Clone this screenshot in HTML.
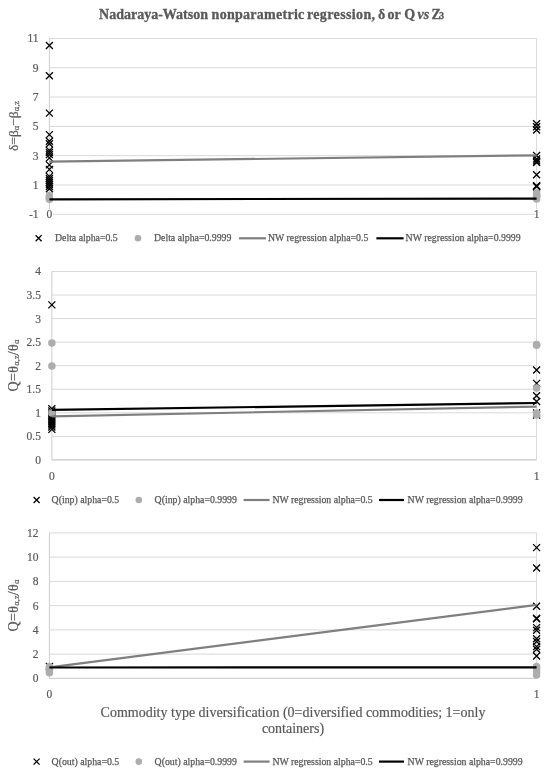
<!DOCTYPE html>
<html><head><meta charset="utf-8"><style>
html,body{margin:0;padding:0;background:#fff;width:550px;height:771px;overflow:hidden}
svg{display:block;will-change:transform;filter:blur(0.3px)}
.t{font-family:"Liberation Serif",serif;font-size:9.8px;fill:#595959;stroke:#595959;stroke-width:0.25px}
.yt{font-family:"Liberation Serif",serif;font-size:13.5px;fill:#595959;stroke:#595959;stroke-width:0.2px}
.tk{font-family:"Liberation Serif",serif;font-size:11.5px;fill:#595959;stroke:#595959;stroke-width:0.2px}
.title{font-family:"Liberation Serif",serif;font-size:14px;font-weight:bold;fill:#595959;stroke:#595959;stroke-width:0.3px}
.ax{font-family:"Liberation Serif",serif;font-size:14px;stroke:#595959;stroke-width:0.2px;fill:#595959}
</style></head><body>
<svg width="550" height="771" viewBox="0 0 550 771">
<rect width="550" height="771" fill="#fff"/>
<text y="18.6" class="title"><tspan x="99.1">Nadaraya-Watson</tspan><tspan x="211.6" letter-spacing="0.27">nonparametric</tspan><tspan x="306.9" letter-spacing="0.38">regression,</tspan><tspan x="377.9">δ</tspan><tspan x="387.4">or</tspan><tspan x="404.2">Q</tspan><tspan x="417.6" font-style="italic">vs</tspan><tspan x="431.6">Z</tspan><tspan x="439.3" font-size="9.5">3</tspan></text>
<line x1="49.4" y1="38.4" x2="536.6" y2="38.4" stroke="#D9D9D9" stroke-width="1"/>
<line x1="49.4" y1="67.72" x2="536.6" y2="67.72" stroke="#D9D9D9" stroke-width="1"/>
<line x1="49.4" y1="97.03" x2="536.6" y2="97.03" stroke="#D9D9D9" stroke-width="1"/>
<line x1="49.4" y1="126.35" x2="536.6" y2="126.35" stroke="#D9D9D9" stroke-width="1"/>
<line x1="49.4" y1="155.66" x2="536.6" y2="155.66" stroke="#D9D9D9" stroke-width="1"/>
<line x1="49.4" y1="184.98" x2="536.6" y2="184.98" stroke="#D9D9D9" stroke-width="1"/>
<line x1="49.4" y1="214.3" x2="536.6" y2="214.3" stroke="#D9D9D9" stroke-width="1"/>
<line x1="536.6" y1="38.4" x2="536.6" y2="214.3" stroke="#D9D9D9" stroke-width="1"/>
<line x1="49.4" y1="38.4" x2="49.4" y2="214.3" stroke="#CDCDCD" stroke-width="1"/>
<text x="38.5" y="42.30" text-anchor="end" class="tk">11</text>
<text x="38.5" y="71.62" text-anchor="end" class="tk">9</text>
<text x="38.5" y="100.93" text-anchor="end" class="tk">7</text>
<text x="38.5" y="130.25" text-anchor="end" class="tk">5</text>
<text x="38.5" y="159.56" text-anchor="end" class="tk">3</text>
<text x="38.5" y="188.88" text-anchor="end" class="tk">1</text>
<text x="38.5" y="218.20" text-anchor="end" class="tk">-1</text>
<rect x="46.199999999999996" y="209.3" width="6.4" height="10" fill="#fff"/>
<text x="49.4" y="218.20000000000002" text-anchor="middle" class="tk">0</text>
<rect x="534.8000000000001" y="209.3" width="3.6" height="10" fill="#fff"/>
<text x="536.6" y="218.20000000000002" text-anchor="middle" class="tk">1</text>
<path d="M45.90 42.00L52.90 49.00M52.90 42.00L45.90 49.00" stroke="#000" stroke-width="1.3" fill="none"/>
<path d="M45.90 72.20L52.90 79.20M52.90 72.20L45.90 79.20" stroke="#000" stroke-width="1.3" fill="none"/>
<path d="M45.90 109.60L52.90 116.60M52.90 109.60L45.90 116.60" stroke="#000" stroke-width="1.3" fill="none"/>
<path d="M45.90 131.10L52.90 138.10M52.90 131.10L45.90 138.10" stroke="#000" stroke-width="1.3" fill="none"/>
<path d="M45.90 137.70L52.90 144.70M52.90 137.70L45.90 144.70" stroke="#000" stroke-width="1.3" fill="none"/>
<path d="M45.90 140.30L52.90 147.30M52.90 140.30L45.90 147.30" stroke="#000" stroke-width="1.3" fill="none"/>
<path d="M45.90 146.90L52.90 153.90M52.90 146.90L45.90 153.90" stroke="#000" stroke-width="1.3" fill="none"/>
<path d="M45.90 149.00L52.90 156.00M52.90 149.00L45.90 156.00" stroke="#000" stroke-width="1.3" fill="none"/>
<path d="M45.90 151.10L52.90 158.10M52.90 151.10L45.90 158.10" stroke="#000" stroke-width="1.3" fill="none"/>
<path d="M45.90 154.40L52.90 161.40M52.90 154.40L45.90 161.40" stroke="#000" stroke-width="1.3" fill="none"/>
<path d="M45.90 161.40L52.90 168.40M52.90 161.40L45.90 168.40" stroke="#000" stroke-width="1.3" fill="none"/>
<path d="M45.90 165.90L52.90 172.90M52.90 165.90L45.90 172.90" stroke="#000" stroke-width="1.3" fill="none"/>
<path d="M45.90 172.90L52.90 179.90M52.90 172.90L45.90 179.90" stroke="#000" stroke-width="1.3" fill="none"/>
<path d="M45.90 175.00L52.90 182.00M52.90 175.00L45.90 182.00" stroke="#000" stroke-width="1.3" fill="none"/>
<path d="M45.90 177.00L52.90 184.00M52.90 177.00L45.90 184.00" stroke="#000" stroke-width="1.3" fill="none"/>
<path d="M45.90 179.00L52.90 186.00M52.90 179.00L45.90 186.00" stroke="#000" stroke-width="1.3" fill="none"/>
<path d="M45.90 181.00L52.90 188.00M52.90 181.00L45.90 188.00" stroke="#000" stroke-width="1.3" fill="none"/>
<path d="M45.90 183.00L52.90 190.00M52.90 183.00L45.90 190.00" stroke="#000" stroke-width="1.3" fill="none"/>
<path d="M45.90 185.20L52.90 192.20M52.90 185.20L45.90 192.20" stroke="#000" stroke-width="1.3" fill="none"/>
<path d="M533.10 120.30L540.10 127.30M540.10 120.30L533.10 127.30" stroke="#000" stroke-width="1.3" fill="none"/>
<path d="M533.10 123.30L540.10 130.30M540.10 123.30L533.10 130.30" stroke="#000" stroke-width="1.3" fill="none"/>
<path d="M533.10 126.50L540.10 133.50M540.10 126.50L533.10 133.50" stroke="#000" stroke-width="1.3" fill="none"/>
<path d="M533.10 152.00L540.10 159.00M540.10 152.00L533.10 159.00" stroke="#000" stroke-width="1.3" fill="none"/>
<path d="M533.10 155.50L540.10 162.50M540.10 155.50L533.10 162.50" stroke="#000" stroke-width="1.3" fill="none"/>
<path d="M533.10 157.50L540.10 164.50M540.10 157.50L533.10 164.50" stroke="#000" stroke-width="1.3" fill="none"/>
<path d="M533.10 159.00L540.10 166.00M540.10 159.00L533.10 166.00" stroke="#000" stroke-width="1.3" fill="none"/>
<path d="M533.10 171.30L540.10 178.30M540.10 171.30L533.10 178.30" stroke="#000" stroke-width="1.3" fill="none"/>
<path d="M533.10 182.10L540.10 189.10M540.10 182.10L533.10 189.10" stroke="#000" stroke-width="1.3" fill="none"/>
<path d="M533.10 182.60L540.10 189.60M540.10 182.60L533.10 189.60" stroke="#000" stroke-width="1.3" fill="none"/>
<path d="M533.10 183.10L540.10 190.10M540.10 183.10L533.10 190.10" stroke="#000" stroke-width="1.3" fill="none"/>
<path d="M533.10 189.50L540.10 196.50M540.10 189.50L533.10 196.50" stroke="#000" stroke-width="1.3" fill="none"/>
<circle cx="49.40" cy="195.50" r="3.75" fill="#ADADAD"/>
<circle cx="49.40" cy="197.00" r="3.75" fill="#ADADAD"/>
<circle cx="49.40" cy="198.50" r="3.75" fill="#ADADAD"/>
<circle cx="49.40" cy="199.30" r="3.75" fill="#ADADAD"/>
<circle cx="536.60" cy="193.00" r="3.75" fill="#ADADAD"/>
<circle cx="536.60" cy="195.00" r="3.75" fill="#ADADAD"/>
<circle cx="536.60" cy="197.00" r="3.75" fill="#ADADAD"/>
<circle cx="536.60" cy="199.00" r="3.75" fill="#ADADAD"/>
<line x1="49.4" y1="161.63" x2="536.6" y2="155.31" stroke="#7F7F7F" stroke-width="2.2"/>
<line x1="49.4" y1="199.29" x2="536.6" y2="198.58" stroke="#000" stroke-width="2.2"/>
<text transform="translate(18.4 126) rotate(-90)" text-anchor="middle" class="yt">δ=β<tspan font-size="8.5" dy="0.8">α</tspan><tspan dy="-0.8">−β</tspan><tspan font-size="8.5" dy="0.8">α,z</tspan></text>
<path d="M35.60 235.30L41.60 241.30M41.60 235.30L35.60 241.30" stroke="#000" stroke-width="1.25" fill="none"/>
<text x="55" y="241.20000000000002" class="t">Delta alpha=0.5</text>
<circle cx="138.00" cy="238.30" r="3.3" fill="#ADADAD"/>
<text x="154" y="241.20000000000002" class="t">Delta alpha=0.9999</text>
<line x1="239" y1="238.3" x2="266" y2="238.3" stroke="#7F7F7F" stroke-width="2.2"/>
<text x="268" y="241.20000000000002" class="t">NW regression alpha=0.5</text>
<line x1="376.4" y1="238.3" x2="403.6" y2="238.3" stroke="#000" stroke-width="2.2"/>
<text x="405.6" y="241.20000000000002" class="t">NW regression alpha=0.9999</text>
<line x1="51.85" y1="271.5" x2="536.6" y2="271.5" stroke="#D9D9D9" stroke-width="1"/>
<line x1="51.85" y1="295.05" x2="536.6" y2="295.05" stroke="#D9D9D9" stroke-width="1"/>
<line x1="51.85" y1="318.6" x2="536.6" y2="318.6" stroke="#D9D9D9" stroke-width="1"/>
<line x1="51.85" y1="342.15" x2="536.6" y2="342.15" stroke="#D9D9D9" stroke-width="1"/>
<line x1="51.85" y1="365.7" x2="536.6" y2="365.7" stroke="#D9D9D9" stroke-width="1"/>
<line x1="51.85" y1="389.25" x2="536.6" y2="389.25" stroke="#D9D9D9" stroke-width="1"/>
<line x1="51.85" y1="412.8" x2="536.6" y2="412.8" stroke="#D9D9D9" stroke-width="1"/>
<line x1="51.85" y1="436.35" x2="536.6" y2="436.35" stroke="#D9D9D9" stroke-width="1"/>
<line x1="51.85" y1="459.9" x2="536.6" y2="459.9" stroke="#D9D9D9" stroke-width="1"/>
<line x1="536.6" y1="271.5" x2="536.6" y2="459.9" stroke="#D9D9D9" stroke-width="1"/>
<line x1="51.85" y1="271.5" x2="51.85" y2="459.9" stroke="#CDCDCD" stroke-width="1"/>
<line x1="51.85" y1="459.9" x2="536.6" y2="459.9" stroke="#CDCDCD" stroke-width="1"/>
<text x="40.95" y="275.40" text-anchor="end" class="tk">4</text>
<text x="40.95" y="298.95" text-anchor="end" class="tk">3.5</text>
<text x="40.95" y="322.50" text-anchor="end" class="tk">3</text>
<text x="40.95" y="346.05" text-anchor="end" class="tk">2.5</text>
<text x="40.95" y="369.60" text-anchor="end" class="tk">2</text>
<text x="40.95" y="393.15" text-anchor="end" class="tk">1.5</text>
<text x="40.95" y="416.70" text-anchor="end" class="tk">1</text>
<text x="40.95" y="440.25" text-anchor="end" class="tk">0.5</text>
<text x="40.95" y="463.80" text-anchor="end" class="tk">0</text>
<rect x="48.65" y="471" width="6.4" height="10" fill="#fff"/>
<text x="51.85" y="479.9" text-anchor="middle" class="tk">0</text>
<rect x="534.8000000000001" y="471" width="3.6" height="10" fill="#fff"/>
<text x="536.6" y="479.9" text-anchor="middle" class="tk">1</text>
<path d="M48.35 301.40L55.35 308.40M55.35 301.40L48.35 308.40" stroke="#000" stroke-width="1.3" fill="none"/>
<path d="M48.35 405.20L55.35 412.20M55.35 405.20L48.35 412.20" stroke="#000" stroke-width="1.3" fill="none"/>
<path d="M48.35 407.50L55.35 414.50M55.35 407.50L48.35 414.50" stroke="#000" stroke-width="1.3" fill="none"/>
<path d="M48.35 409.50L55.35 416.50M55.35 409.50L48.35 416.50" stroke="#000" stroke-width="1.3" fill="none"/>
<path d="M48.35 411.50L55.35 418.50M55.35 411.50L48.35 418.50" stroke="#000" stroke-width="1.3" fill="none"/>
<path d="M48.35 413.50L55.35 420.50M55.35 413.50L48.35 420.50" stroke="#000" stroke-width="1.3" fill="none"/>
<path d="M48.35 415.50L55.35 422.50M55.35 415.50L48.35 422.50" stroke="#000" stroke-width="1.3" fill="none"/>
<path d="M48.35 417.50L55.35 424.50M55.35 417.50L48.35 424.50" stroke="#000" stroke-width="1.3" fill="none"/>
<path d="M48.35 419.50L55.35 426.50M55.35 419.50L48.35 426.50" stroke="#000" stroke-width="1.3" fill="none"/>
<path d="M48.35 421.50L55.35 428.50M55.35 421.50L48.35 428.50" stroke="#000" stroke-width="1.3" fill="none"/>
<path d="M48.35 423.50L55.35 430.50M55.35 423.50L48.35 430.50" stroke="#000" stroke-width="1.3" fill="none"/>
<path d="M48.35 425.90L55.35 432.90M55.35 425.90L48.35 432.90" stroke="#000" stroke-width="1.3" fill="none"/>
<path d="M533.10 366.50L540.10 373.50M540.10 366.50L533.10 373.50" stroke="#000" stroke-width="1.3" fill="none"/>
<path d="M533.10 379.90L540.10 386.90M540.10 379.90L533.10 386.90" stroke="#000" stroke-width="1.3" fill="none"/>
<path d="M533.10 392.20L540.10 399.20M540.10 392.20L533.10 399.20" stroke="#000" stroke-width="1.3" fill="none"/>
<path d="M533.10 398.00L540.10 405.00M540.10 398.00L533.10 405.00" stroke="#000" stroke-width="1.3" fill="none"/>
<path d="M533.10 409.50L540.10 416.50M540.10 409.50L533.10 416.50" stroke="#000" stroke-width="1.3" fill="none"/>
<path d="M533.10 411.50L540.10 418.50M540.10 411.50L533.10 418.50" stroke="#000" stroke-width="1.3" fill="none"/>
<circle cx="51.85" cy="343.10" r="3.75" fill="#ADADAD"/>
<circle cx="51.85" cy="365.90" r="3.75" fill="#ADADAD"/>
<circle cx="51.85" cy="412.90" r="3.75" fill="#ADADAD"/>
<circle cx="536.60" cy="344.60" r="3.75" fill="#ADADAD"/>
<circle cx="536.60" cy="345.20" r="3.75" fill="#ADADAD"/>
<circle cx="536.60" cy="388.10" r="3.75" fill="#ADADAD"/>
<circle cx="536.60" cy="413.00" r="3.75" fill="#ADADAD"/>
<circle cx="536.60" cy="415.00" r="3.75" fill="#ADADAD"/>
<line x1="51.85" y1="416.33" x2="536.6" y2="406.6" stroke="#7F7F7F" stroke-width="2.2"/>
<line x1="51.85" y1="409.96" x2="536.6" y2="402.99" stroke="#000" stroke-width="2.2"/>
<text transform="translate(18.4 365.5) rotate(-90)" text-anchor="middle" class="yt"><tspan font-size="14" letter-spacing="0.35">Q=θ</tspan><tspan font-size="8.5" dy="0.8">α,z</tspan><tspan dy="-0.8" font-size="14" letter-spacing="0.35">/θ</tspan><tspan font-size="8.5" dy="0.8">α</tspan></text>
<path d="M33.60 497.00L39.60 503.00M39.60 497.00L33.60 503.00" stroke="#000" stroke-width="1.25" fill="none"/>
<text x="51.6" y="502.9" class="t">Q(inp) alpha=0.5</text>
<circle cx="138.80" cy="500.00" r="3.3" fill="#ADADAD"/>
<text x="154.6" y="502.9" class="t">Q(inp) alpha=0.9999</text>
<line x1="243.6" y1="500" x2="269.6" y2="500" stroke="#7F7F7F" stroke-width="2.2"/>
<text x="272.4" y="502.9" class="t">NW regression alpha=0.5</text>
<line x1="379" y1="500" x2="404" y2="500" stroke="#000" stroke-width="2.2"/>
<text x="407.6" y="502.9" class="t">NW regression alpha=0.9999</text>
<line x1="49.4" y1="532.9" x2="536.6" y2="532.9" stroke="#D9D9D9" stroke-width="1"/>
<line x1="49.4" y1="557.15" x2="536.6" y2="557.15" stroke="#D9D9D9" stroke-width="1"/>
<line x1="49.4" y1="581.4" x2="536.6" y2="581.4" stroke="#D9D9D9" stroke-width="1"/>
<line x1="49.4" y1="605.65" x2="536.6" y2="605.65" stroke="#D9D9D9" stroke-width="1"/>
<line x1="49.4" y1="629.9" x2="536.6" y2="629.9" stroke="#D9D9D9" stroke-width="1"/>
<line x1="49.4" y1="654.15" x2="536.6" y2="654.15" stroke="#D9D9D9" stroke-width="1"/>
<line x1="49.4" y1="678.4" x2="536.6" y2="678.4" stroke="#D9D9D9" stroke-width="1"/>
<line x1="536.6" y1="532.9" x2="536.6" y2="678.4" stroke="#D9D9D9" stroke-width="1"/>
<line x1="49.4" y1="532.9" x2="49.4" y2="678.4" stroke="#CDCDCD" stroke-width="1"/>
<line x1="49.4" y1="678.4" x2="536.6" y2="678.4" stroke="#CDCDCD" stroke-width="1"/>
<text x="38.5" y="536.80" text-anchor="end" class="tk">12</text>
<text x="38.5" y="561.05" text-anchor="end" class="tk">10</text>
<text x="38.5" y="585.30" text-anchor="end" class="tk">8</text>
<text x="38.5" y="609.55" text-anchor="end" class="tk">6</text>
<text x="38.5" y="633.80" text-anchor="end" class="tk">4</text>
<text x="38.5" y="658.05" text-anchor="end" class="tk">2</text>
<text x="38.5" y="682.30" text-anchor="end" class="tk">0</text>
<rect x="46.199999999999996" y="689" width="6.4" height="10" fill="#fff"/>
<text x="49.4" y="697.9" text-anchor="middle" class="tk">0</text>
<rect x="534.8000000000001" y="689" width="3.6" height="10" fill="#fff"/>
<text x="536.6" y="697.9" text-anchor="middle" class="tk">1</text>
<path d="M45.90 663.00L52.90 670.00M52.90 663.00L45.90 670.00" stroke="#000" stroke-width="1.3" fill="none"/>
<path d="M533.10 544.10L540.10 551.10M540.10 544.10L533.10 551.10" stroke="#000" stroke-width="1.3" fill="none"/>
<path d="M533.10 564.50L540.10 571.50M540.10 564.50L533.10 571.50" stroke="#000" stroke-width="1.3" fill="none"/>
<path d="M533.10 602.80L540.10 609.80M540.10 602.80L533.10 609.80" stroke="#000" stroke-width="1.3" fill="none"/>
<path d="M533.10 614.80L540.10 621.80M540.10 614.80L533.10 621.80" stroke="#000" stroke-width="1.3" fill="none"/>
<path d="M533.10 615.40L540.10 622.40M540.10 615.40L533.10 622.40" stroke="#000" stroke-width="1.3" fill="none"/>
<path d="M533.10 624.10L540.10 631.10M540.10 624.10L533.10 631.10" stroke="#000" stroke-width="1.3" fill="none"/>
<path d="M533.10 626.70L540.10 633.70M540.10 626.70L533.10 633.70" stroke="#000" stroke-width="1.3" fill="none"/>
<path d="M533.10 635.20L540.10 642.20M540.10 635.20L533.10 642.20" stroke="#000" stroke-width="1.3" fill="none"/>
<path d="M533.10 638.00L540.10 645.00M540.10 638.00L533.10 645.00" stroke="#000" stroke-width="1.3" fill="none"/>
<path d="M533.10 643.10L540.10 650.10M540.10 643.10L533.10 650.10" stroke="#000" stroke-width="1.3" fill="none"/>
<path d="M533.10 645.70L540.10 652.70M540.10 645.70L533.10 652.70" stroke="#000" stroke-width="1.3" fill="none"/>
<path d="M533.10 652.50L540.10 659.50M540.10 652.50L533.10 659.50" stroke="#000" stroke-width="1.3" fill="none"/>
<circle cx="49.40" cy="666.40" r="3.75" fill="#ADADAD"/>
<circle cx="49.40" cy="668.50" r="3.75" fill="#ADADAD"/>
<circle cx="49.40" cy="670.50" r="3.75" fill="#ADADAD"/>
<circle cx="49.40" cy="672.80" r="3.75" fill="#ADADAD"/>
<circle cx="536.60" cy="666.50" r="3.75" fill="#ADADAD"/>
<circle cx="536.60" cy="669.00" r="3.75" fill="#ADADAD"/>
<circle cx="536.60" cy="672.00" r="3.75" fill="#ADADAD"/>
<circle cx="536.60" cy="675.00" r="3.75" fill="#ADADAD"/>
<line x1="49.4" y1="667.35" x2="536.6" y2="604.9" stroke="#7F7F7F" stroke-width="2.2"/>
<line x1="49.4" y1="667.5" x2="536.6" y2="667.35" stroke="#000" stroke-width="2.2"/>
<text transform="translate(18.4 605.5) rotate(-90)" text-anchor="middle" class="yt"><tspan font-size="14" letter-spacing="0.35">Q=θ</tspan><tspan font-size="8.5" dy="0.8">α,z</tspan><tspan dy="-0.8" font-size="14" letter-spacing="0.35">/θ</tspan><tspan font-size="8.5" dy="0.8">α</tspan></text>
<path d="M33.60 758.60L39.60 764.60M39.60 758.60L33.60 764.60" stroke="#000" stroke-width="1.25" fill="none"/>
<text x="51.6" y="764.5" class="t">Q(out) alpha=0.5</text>
<circle cx="138.80" cy="761.60" r="3.3" fill="#ADADAD"/>
<text x="154.6" y="764.5" class="t">Q(out) alpha=0.9999</text>
<line x1="243.6" y1="761.6" x2="269.6" y2="761.6" stroke="#7F7F7F" stroke-width="2.2"/>
<text x="272.4" y="764.5" class="t">NW regression alpha=0.5</text>
<line x1="379" y1="761.6" x2="404" y2="761.6" stroke="#000" stroke-width="2.2"/>
<text x="407.6" y="764.5" class="t">NW regression alpha=0.9999</text>
<text x="293" y="716.6" text-anchor="middle" class="ax">Commodity type diversification (0=diversified commodities; 1=only</text><text x="293" y="733" text-anchor="middle" class="ax">containers)</text>
</svg>
</body></html>
